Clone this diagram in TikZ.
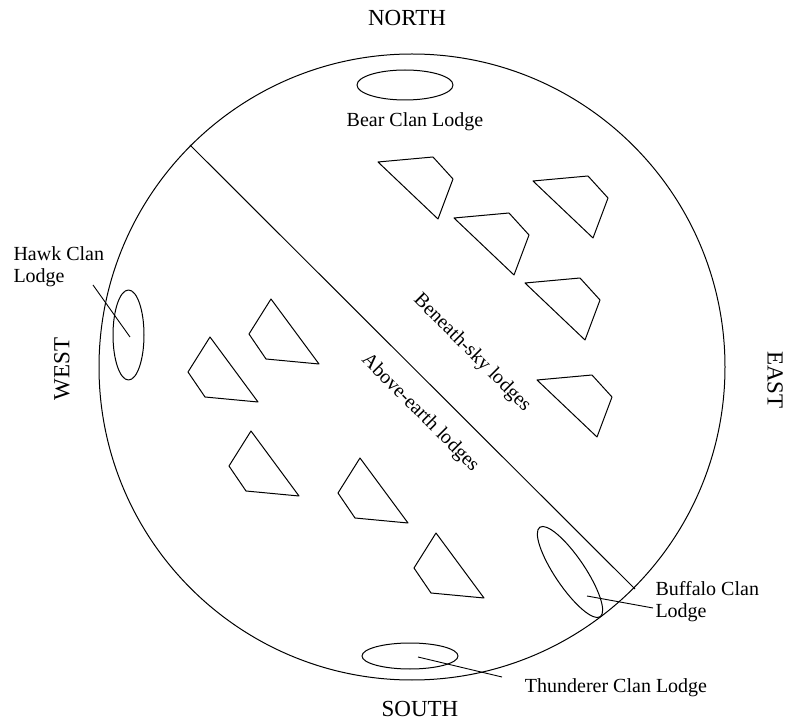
\documentclass[tikz,border=0pt]{standalone}
\usepackage{fontspec}
\setmainfont{Liberation Serif}
\usetikzlibrary{shapes.geometric}
\begin{document}
\begin{tikzpicture}[x=1pt,y=-1pt,
  every path/.style={line width=1pt,line join=round},
  lbl/.style={font=\fontsize{20}{22}\selectfont,inner sep=0pt},
  dirlbl/.style={font=\fontsize{23}{26}\selectfont,inner sep=0pt},
  oval/.style={draw,ellipse,inner sep=0pt},
  leader/.style={draw,line width=0.9pt},
  skylodge/.pic={\draw (0,0) -- ++(55,-5) -- ++(20,22) -- ++(-15,40) -- cycle;},
  earthlodge/.pic={\draw (0,0) -- ++(-22,35) -- ++(17,25) -- ++(53,5) -- cycle;}]
\useasboundingbox (0,0) rectangle (788,727);
% world circle and dividing line
\coordinate (c) at (412,367);
\draw (c) circle[radius=313pt];
\coordinate (dA) at (190,145);
\coordinate (dB) at (635,589);
\draw (dA) -- (dB);
% directions
\node[dirlbl] (north) at (407,18) {NORTH};
\node[dirlbl] (south) at (420,709) {SOUTH};
\node[dirlbl,rotate=90] (west) at (62,369) {WEST};
\node[dirlbl,rotate=-90] (east) at (775,380) {EAST};
% region labels
\node[lbl,rotate=-45] (sky) at (472,353) {Beneath-sky lodges};
\node[lbl,rotate=-45] (earth) at (420,413) {Above-earth lodges};
% clan lodges
\node[oval,minimum width=96pt,minimum height=30pt] (bear) at (405,85) {};
\node[lbl] (bearl) at (415,122) {Bear Clan Lodge};
\node[oval,minimum width=31pt,minimum height=90pt] (hawk) at (128.5,335) {};
\node[lbl,align=left,anchor=west] (hawkl) at (13,267) {Hawk Clan\\Lodge};
\coordinate (hawkA) at (130,337);
\coordinate (hawkB) at (93,285);
\draw[leader] (hawkA) -- (hawkB);
\node[oval,minimum width=108pt,minimum height=30pt,rotate=-56] (buffalo) at (570,572) {};
\node[lbl,align=left,anchor=west] (buffalol) at (655,602) {Buffalo Clan\\Lodge};
\coordinate (bufA) at (587,596);
\coordinate (bufB) at (653,608);
\draw[leader] (bufA) -- (bufB);
\node[oval,minimum width=96pt,minimum height=26pt] (thunder) at (410,656) {};
\node[lbl] (thunderl) at (616,688) {Thunderer Clan Lodge};
\coordinate (thA) at (418,657);
\coordinate (thB) at (502,677);
\draw[leader] (thA) -- (thB);
% beneath-sky lodges
\pic at (378,162) {skylodge};
\pic at (533,181) {skylodge};
\pic at (454,218) {skylodge};
\pic at (525,283) {skylodge};
\pic at (537,380) {skylodge};
% above-earth lodges
\pic at (271,299) {earthlodge};
\pic at (210,337) {earthlodge};
\pic at (251,431) {earthlodge};
\pic at (360,458) {earthlodge};
\pic at (436,533) {earthlodge};
\end{tikzpicture}
\end{document}
